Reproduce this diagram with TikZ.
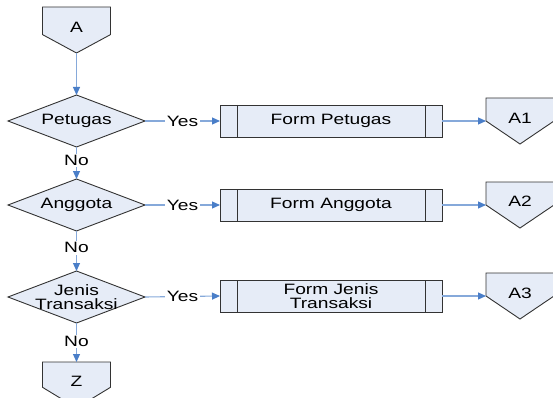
\documentclass[tikz,border=0pt]{standalone}
\usepackage{fontspec}
\setmainfont{Liberation Sans}[FakeStretch=1.28]
\usetikzlibrary{calc,arrows.meta,backgrounds}
\definecolor{fillc}{HTML}{E6ECF7}
\definecolor{linec}{HTML}{86A9DA}
\definecolor{headc}{HTML}{4A7EC8}
\definecolor{edgec}{HTML}{333333}
\begin{document}
\begin{tikzpicture}[x=1pt,y=-1pt,
  font=\fontsize{15}{14.5}\selectfont,
  hold/.style={inner sep=0pt, outer sep=0pt},
  dec/.style={hold, minimum width=137pt, minimum height=52pt, align=center},
  off/.style={hold, minimum width=68pt, minimum height=46pt},
  proc/.style={hold, draw=edgec, fill=fillc, minimum width=222pt, minimum height=32pt, align=center, line width=0.9pt},
  shp/.style={draw=edgec, fill=fillc, line width=0.9pt, line join=miter},
  conn/.style={draw=linec, line width=1.1pt, -{Triangle[length=8pt,width=7pt,color=headc]}},
  lab/.style={fill=white, inner sep=1.5pt, text=black}
]
\path[use as bounding box] (0,0) rectangle (553,398);

% decisions
\node[dec] (pet) at (76.5,121) {Petugas};
\node[dec] (ang) at (76.5,205) {Anggota};
\node[dec] (jen) at (76.5,297) {Jenis\\Transaksi};
% off-page connectors
\node[off] (a) at (76.5,30) {\raisebox{5pt}{A}};
\node[off] (z) at (76.5,385) {\raisebox{7pt}{Z}};
\node[off] (a1) at (520,121) {\raisebox{6pt}{A1}};
\node[off] (a2) at (520,205) {\raisebox{7pt}{A2}};
\node[off] (a3) at (520,296) {\raisebox{5pt}{A3}};
% processes
\node[proc] (f1) at (331,121) {Form Petugas};
\node[proc] (f2) at (331,205) {Form Anggota};
\node[proc] (f3) at (331,296) {Form Jenis\\Transaksi};

\begin{scope}[on background layer]
  \foreach \d in {pet,ang,jen}
    \draw[shp] (\d.north) -- (\d.east) -- (\d.south) -- (\d.west) -- cycle;
  \foreach \o/\r in {a/0.6,z/0.55,a1/0.5,a2/0.5,a3/0.5}
    \draw[shp] (\o.north west) -- (\o.north east) -- ($(\o.north east)!\r!(\o.south east)$)
      -- (\o.south) -- ($(\o.north west)!\r!(\o.south west)$) -- cycle;
\end{scope}

\foreach \f in {f1,f2,f3} {
  \draw[edgec, line width=0.9pt] ([xshift=17pt]\f.north west) -- ([xshift=17pt]\f.south west);
  \draw[edgec, line width=0.9pt] ([xshift=-17pt]\f.north east) -- ([xshift=-17pt]\f.south east);
}

% connectors
\draw[conn] (a.south) -- (pet.north);
\draw[conn] (pet.south) -- node[lab, pos=0.42] {No} (ang.north);
\draw[conn] (ang.south) -- node[lab, pos=0.42] {No} (jen.north);
\draw[conn] (jen.south) -- node[lab, pos=0.48] {No} (z.north);
\draw[conn] (pet.east) -- node[lab] {Yes} (f1.west);
\draw[conn] (ang.east) -- node[lab] {Yes} (f2.west);
\draw[conn] (jen.east) -- node[lab] {Yes} (f3.west);
\draw[conn] (f1.east) -- (a1.west);
\draw[conn] (f2.east) -- (a2.west);
\draw[conn] (f3.east) -- (a3.west);
\end{tikzpicture}
\end{document}
